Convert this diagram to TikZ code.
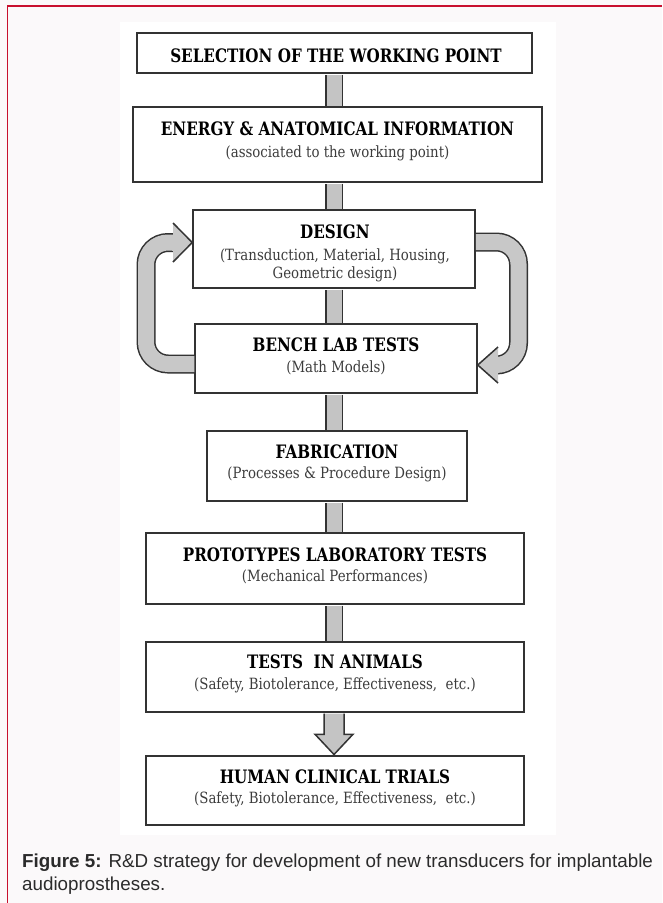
\documentclass[tikz,border=0pt]{standalone}
\usepackage{fontspec}
\setmainfont{DejaVu Serif}
\newfontfamily\boxtitlefont[FakeStretch=0.82]{DejaVu Serif}
\newfontfamily\boxsubfont[FakeStretch=0.86]{DejaVu Serif}
\newfontfamily\capfont{Liberation Sans}
\usetikzlibrary{calc}

\definecolor{framered}{HTML}{C8102E}
\definecolor{pagebg}{HTML}{FBF9FA}
\definecolor{barfill}{HTML}{C4C4C4}
\definecolor{loopfill}{HTML}{C8C8C8}
\definecolor{edge}{HTML}{333333}
\definecolor{subtext}{HTML}{3C3C3C}
\definecolor{captext}{HTML}{2B2B2B}

\tikzset{
  box/.style={draw=edge, line width=1.5pt, fill=white, inner sep=0pt},
  ttl/.style={font=\boxtitlefont\bfseries\fontsize{18.5}{20}\selectfont,
              text=black, anchor=base, inner sep=0pt},
  sub/.style={font=\boxsubfont\fontsize{15.5}{17}\selectfont,
              text=subtext, anchor=base, inner sep=0pt},
  bar/.style={draw=edge, line width=1.5pt, double=barfill,
              double distance=15pt, shorten <=0.75pt, shorten >=0.75pt},
  loopband/.style={draw=edge, line width=1.5pt, double=loopfill,
              double distance=16pt, rounded corners=22pt},
  loophead/.style={draw=edge, line width=1.5pt, fill=loopfill, line join=miter},
  downarrow/.style={draw=edge, line width=1.5pt, fill=barfill, line join=miter},
  captxt/.style={font=\capfont\fontsize{18.8}{22}\selectfont, text=captext,
              anchor=base west, inner sep=0pt}
}

\begin{document}
\begin{tikzpicture}[x=1pt, y=-1pt]
  % page, panel and frame
  \fill[pagebg] (0,0) rectangle (662,903);
  \useasboundingbox (0,0) rectangle (662,903);
  \fill[white] (120,22) rectangle (556,835);
  \draw[framered, line width=1.7pt] (7.5,903) -- (7.5,5.8) -- (662,5.8);

  % boxes
  \node[box, minimum width=395pt, minimum height=40pt] (sel)     at (334.5,53)    {};
  \node[box, minimum width=409pt, minimum height=75pt] (energy)  at (337.5,144.5) {};
  \node[box, minimum width=282pt, minimum height=78pt] (design)  at (334,249)     {};
  \node[box, minimum width=282pt, minimum height=69pt] (bench)   at (336,358.5)   {};
  \node[box, minimum width=260pt, minimum height=70pt] (fab)     at (337,466)     {};
  \node[box, minimum width=378pt, minimum height=71pt] (proto)   at (335,568.5)   {};
  \node[box, minimum width=378pt, minimum height=70pt] (animals) at (335,677)     {};
  \node[box, minimum width=378pt, minimum height=69pt] (human)   at (335,790.5)   {};

  % box texts
  \node[ttl] (sel-t)     at (336,62)    {SELECTION OF THE WORKING POINT};
  \node[ttl] (energy-t)  at (337.5,135) {ENERGY \& ANATOMICAL INFORMATION};
  \node[sub] (energy-s)  at (337.5,157) {(associated to the working point)};
  \node[ttl] (design-t)  at (335,238)   {DESIGN};
  \node[sub] (design-s1) at (335,260)   {(Transduction, Material, Housing,};
  \node[sub] (design-s2) at (335,278)   {Geometric design)};
  \node[ttl] (bench-t)   at (336,351)   {BENCH LAB TESTS};
  \node[sub] (bench-s)   at (336,372)   {(Math Models)};
  \node[ttl] (fab-t)     at (337,458)   {FABRICATION};
  \node[sub] (fab-s)     at (337,478)   {(Processes \& Procedure Design)};
  \node[ttl] (proto-t)   at (335,561)   {PROTOTYPES LABORATORY TESTS};
  \node[sub] (proto-s)   at (335,581)   {(Mechanical Performances)};
  \node[ttl] (animals-t) at (335,668.5) {TESTS\ \ IN ANIMALS};
  \node[sub] (animals-s) at (335,689)   {(Safety, Biotolerance, Effectiveness,\ \ etc.)};
  \node[ttl] (human-t)   at (335,783)   {HUMAN CLINICAL TRIALS};
  \node[sub] (human-s)   at (335,803)   {(Safety, Biotolerance, Effectiveness,\ \ etc.)};

  % vertical flow bars
  \coordinate (axis) at (334,0);
  \draw[bar] (sel.south -| axis)    -- (energy.north -| axis);
  \draw[bar] (energy.south -| axis) -- (design.north -| axis);
  \draw[bar] (design.south -| axis) -- (bench.north -| axis);
  \draw[bar] (bench.south -| axis)  -- (fab.north -| axis);
  \draw[bar] (fab.south -| axis)    -- (proto.north -| axis);
  \draw[bar] (proto.south -| axis)  -- (animals.north -| axis);

  % block arrow into the clinical trials
  \coordinate (at) at (animals.south -| axis);
  \coordinate (ab) at (human.north -| axis);
  \draw[downarrow] ($(at)+(-10,0.75)$) -- ($(ab)+(-10,-21)$) -- ($(ab)+(-19,-21)$)
     -- ($(ab)+(0,-0.75)$) -- ($(ab)+(19,-21)$) -- ($(ab)+(10,-21)$) -- ($(at)+(10,0.75)$);

  % feedback loop: bench tests back to design (left)
  \coordinate (lrow) at (0,364);
  \coordinate (ltop) at (0,242.5);
  \coordinate (lbase) at (173,242.5);
  \draw[loopband] (bench.west |- lrow) -- (146,364) -- (146,242.5) -- (lbase);
  \draw[loophead] (173,223) -- (design.west |- ltop) -- (173,262);
  \fill[loopfill] ($(lbase)+(-1,-8)$) rectangle ($(lbase)+(1.5,8)$);

  % feedback loop: design forward to bench tests (right)
  \coordinate (rtop) at (0,242);
  \coordinate (rrow) at (0,365);
  \coordinate (rbase) at (498,365);
  \draw[loopband] (design.east |- rtop) -- (518.5,242) -- (518.5,365) -- (rbase);
  \draw[loophead] (498,347) -- (bench.east |- rrow) -- (498,383);
  \fill[loopfill] ($(rbase)+(-1.5,-8)$) rectangle ($(rbase)+(1,8)$);

  % caption
  \node[captxt] (cap1) at (22,867) {\textbf{Figure 5:} R\&D strategy for development of new transducers for implantable};
  \node[captxt] (cap2) at (22,890) {audioprostheses.};
\end{tikzpicture}
\end{document}
